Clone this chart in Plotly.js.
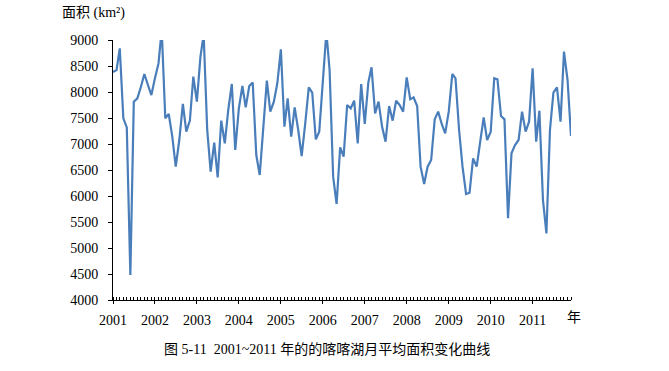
<!DOCTYPE html>
<html>
<head>
<meta charset="utf-8">
<script src="https://cdn.plot.ly/plotly-3.0.1.min.js"></script>
<style>html,body{margin:0;padding:0;background:#fff;}#chart{width:669px;height:371px;}</style>
</head>
<body>
<div id="chart"></div>
<script>
// Years covered (monthly data, Jan 2001 – Dec 2011)
const years = [2001, 2002, 2003, 2004, 2005, 2006, 2007, 2008, 2009, 2010, 2011];
const monthNums = ["01","02","03","04","05","06","07","08","09","10","11","12"];
const yearLabels = ["2001","2002","2003","2004","2005","2006","2007","2008","2009","2010","2011"];

// Monthly mean lake area (km²)
const area = [
  8385, 8423, 8840, 7494, 7320, 4480, 7814, 7878, 8100, 8346, 8135, 7942,   // 2001
  8263, 8550, 9200, 7494, 7577, 7141, 6564, 7077, 7770, 7237, 7449, 8295,   // 2002
  7814, 8680, 9100, 7270, 6468, 7026, 6359, 7449, 7013, 7654, 8154, 6885,   // 2003
  7680, 8115, 7705, 8115, 8180, 6788, 6404, 7397, 8218, 7622, 7814, 8167,   // 2004
  8820, 7333, 7878, 7141, 7705, 7269, 6769, 7397, 8090, 7987, 7090, 7237,   // 2005
  8167, 9150, 8423, 6372, 5846, 6936, 6756, 7750, 7686, 7833, 7013, 8154,   // 2006
  7385, 8180, 8474, 7590, 7814, 7333, 7045, 7731, 7449, 7833, 7750, 7622,   // 2007
  8282, 7859, 7897, 7731, 6564, 6231, 6564, 6692, 7474, 7622, 7385, 7205,   // 2008
  7622, 8346, 8263, 7269, 6564, 6038, 6064, 6724, 6564, 7013, 7513, 7077,   // 2009
  7230, 8263, 8244, 7538, 7474, 5571, 6820, 6981, 7077, 7622, 7237, 7429,   // 2010
  8455, 7045, 7641, 5923, 5282, 7269, 7987, 8090, 7429, 8776, 8231, 7154    // 2011
];

const months = [];
years.forEach(y => monthNums.forEach(m => months.push(y + "-" + m + "-01")));
const yearTicks = years.map(y => y + "-01-01");

const serif = "Liberation Serif, Noto Sans CJK SC, serif";

const trace = {
  x: months,
  y: area,
  type: "scatter",
  mode: "lines",
  line: {color: "#4a7ebb", width: 2.2},
  hoverinfo: "x+y"
};

const layout = {
  width: 669,
  height: 371,
  margin: {l: 113, r: 98, t: 40, b: 71},
  paper_bgcolor: "#ffffff",
  plot_bgcolor: "#ffffff",
  showlegend: false,
  font: {family: serif, size: 14, color: "#000"},
  xaxis: {
    type: "date",
    range: [months[0], months[months.length - 1]],
    tickvals: yearTicks,
    ticktext: yearLabels,
    ticks: "outside",
    ticklen: 3,
    tickcolor: "#000",
    tickwidth: 1,
    ticklabelstandoff: 4,
    minor: {dtick: "M1", tick0: "2001-01-01", ticks: "inside", ticklen: 3, tickcolor: "#000", tickwidth: 1, showgrid: false},
    showline: true,
    linecolor: "#000",
    linewidth: 1,
    showgrid: false,
    zeroline: false,
    tickfont: {family: serif, size: 14, color: "#000"}
  },
  yaxis: {
    range: [4000, 9000],
    dtick: 500,
    tick0: 4000,
    ticks: "outside",
    ticklen: 4,
    tickcolor: "#000",
    tickwidth: 1,
    ticklabelstandoff: 7,
    showline: true,
    linecolor: "#000",
    linewidth: 1,
    showgrid: false,
    zeroline: false,
    tickfont: {family: serif, size: 14, color: "#000"}
  },
  annotations: [
    {text: "面积 (km²)", xref: "paper", yref: "paper", x: -0.115, y: 1.105, xanchor: "left", yanchor: "middle",
     showarrow: false, font: {family: serif, size: 14, color: "#000"}},
    {text: "年", xref: "paper", yref: "paper", x: 1.007, y: -0.069, xanchor: "center", yanchor: "middle",
     showarrow: false, font: {family: serif, size: 14, color: "#000"}},
    {text: "图 5-11  2001~2011 年的的喀喀湖月平均面积变化曲线", xref: "paper", yref: "paper", x: 0.4666, y: -0.192,
     xanchor: "center", yanchor: "middle", showarrow: false, font: {family: serif, size: 14, color: "#000"}}
  ]
};

Plotly.newPlot("chart", [trace], layout, {staticPlot: true, displayModeBar: false});
</script>
</body>
</html>
